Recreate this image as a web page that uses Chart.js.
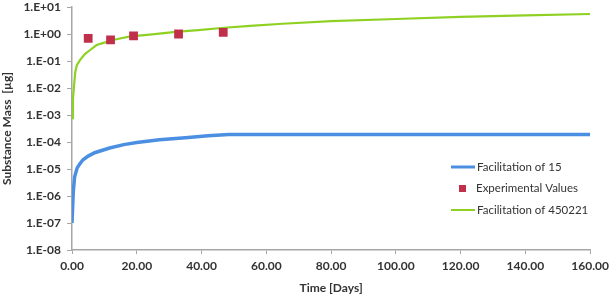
<!DOCTYPE html>
<html>
<head>
<meta charset="utf-8">
<script src="https://cdn.jsdelivr.net/npm/chart.js@4"></script>
<style>
  body { margin: 0; background: #fff; }
  #wrap { width: 614px; height: 295px; }
</style>
</head>
<body>
<div id="wrap"><canvas id="massChart" width="614" height="295"></canvas></div>
<script>
// time axis (days) and y decades
const xTicks = [0, 20, 40, 60, 80, 100, 120, 140, 160];
const yTicks = [1e-8, 1e-7, 1e-6, 1e-5, 1e-4, 1e-3, 1e-2, 1e-1, 1, 10];

// Facilitation of 15 (blue)
const days15 = [0, 0.4, 0.8, 1.6, 2.5, 3.4, 5, 7, 11.6, 16, 20, 27, 35, 42, 48.4, 60, 80, 100, 120, 140, 160];
const mass15 = [1e-7, 1.5e-6, 5e-6, 1.1e-5, 1.6e-5, 2.2e-5, 3e-5, 4e-5, 6e-5, 8e-5, 9.5e-5, 1.2e-4, 1.45e-4, 1.7e-4, 1.9e-4, 1.9e-4, 1.9e-4, 1.9e-4, 1.9e-4, 1.9e-4, 1.9e-4];

// Facilitation of 450221 (green)
const days450221 = [0, 0.3, 0.6, 1, 1.5, 2.5, 4, 5.5, 7.6, 10, 13.7, 18, 24, 32, 39, 47, 55, 65, 80, 100, 120, 140, 160];
const mass450221 = [7.7e-4, 4e-3, 1.1e-2, 0.039, 0.07, 0.11, 0.18, 0.25, 0.39, 0.48, 0.64, 0.82, 0.95, 1.2, 1.4, 1.7, 2.0, 2.4, 3.0, 3.6, 4.3, 4.9, 5.5];

// Experimental Values (red squares)
const expDays = [5, 11.9, 19, 32.9, 46.7];
const expMass = [0.69, 0.6, 0.86, 1.0, 1.15];

const blue = '#4a8fe2';
const green = '#8fd123';
const red = '#c0304a';
const axisGray = '#a6a6a6';
const textColor = '#333333';

function toXY(xs, ys) {
    return xs.map((x, i) => ({ x: x, y: ys[i] }));
}

function fmtExp(v) {
    const e = Math.round(Math.log10(v));
    const s = String(Math.abs(e)).padStart(2, '0');
    return '1.E' + (e < 0 ? '-' : '+') + s;
}

// legend drawn inside the plot, right side
const legendPlugin = {
    id: 'sideLegend',
    afterDraw(chart) {
        const ctx = chart.ctx;
        const items = [
            { label: 'Facilitation of 15', kind: 'line', color: blue, width: 3 },
            { label: 'Experimental Values', kind: 'rect', color: red },
            { label: 'Facilitation of 450221', kind: 'line', color: green, width: 2 }
        ];
        ctx.save();
        ctx.font = '11.5px Lato';
        ctx.textBaseline = 'middle';
        items.forEach((it, i) => {
            const y = 167 + i * 21.5;
            if (it.kind === 'line') {
                ctx.strokeStyle = it.color;
                ctx.lineWidth = it.width;
                ctx.beginPath();
                ctx.moveTo(451, y);
                ctx.lineTo(475, y);
                ctx.stroke();
            } else {
                ctx.fillStyle = it.color;
                ctx.fillRect(459, y - 3.5, 7, 7);
            }
            ctx.fillStyle = textColor;
            ctx.fillText(it.label, i === 1 ? 476 : 477, y);
        });
        ctx.restore();
    }
};

new Chart(document.getElementById('massChart'), {
    type: 'line',
    data: {
        datasets: [
            {
                label: 'Facilitation of 15',
                data: toXY(days15, mass15),
                borderColor: blue,
                borderWidth: 3.5,
                pointRadius: 0,
                tension: 0
            },
            {
                label: 'Experimental Values',
                type: 'scatter',
                data: toXY(expDays, expMass),
                showLine: false,
                pointStyle: 'rect',
                pointRadius: 6.2,
                backgroundColor: red,
                borderColor: red,
                borderWidth: 0
            },
            {
                label: 'Facilitation of 450221',
                data: toXY(days450221, mass450221),
                borderColor: green,
                borderWidth: 2.2,
                pointRadius: 0,
                tension: 0
            }
        ]
    },
    options: {
        responsive: false,
        animation: false,
        layout: { padding: { top: 7, right: 20, left: 0, bottom: 0 } },
        plugins: {
            legend: { display: false },
            tooltip: { enabled: false }
        },
        scales: {
            x: {
                type: 'linear',
                min: 0,
                max: 160,
                afterBuildTicks: scale => { scale.ticks = xTicks.map(v => ({ value: v })); },
                afterFit: scale => { scale.height = 45; },
                grid: {
                    display: true,
                    drawOnChartArea: false,
                    color: axisGray,
                    tickLength: 4
                },
                border: { color: axisGray, width: 1.5 },
                ticks: {
                    color: textColor,
                    font: { family: 'Lato', size: 12, weight: 'bold' },
                    padding: 5,
                    maxRotation: 0,
                    callback: v => Number(v).toFixed(2)
                },
                title: {
                    display: true,
                    text: 'Time [Days]',
                    color: textColor,
                    font: { family: 'Lato', size: 12, weight: 'bold' },
                    padding: { top: 1, bottom: 0 }
                }
            },
            y: {
                type: 'logarithmic',
                min: 1e-8,
                max: 10,
                afterBuildTicks: scale => { scale.ticks = yTicks.map(v => ({ value: v })); },
                afterFit: scale => {
                    scale.width = 72;
                    scale.paddingTop = 0;
                    scale.paddingBottom = 0;
                },
                grid: {
                    display: true,
                    drawOnChartArea: false,
                    color: axisGray,
                    tickLength: 5
                },
                border: { color: axisGray, width: 1.5 },
                ticks: {
                    color: textColor,
                    font: { family: 'Lato', size: 12, weight: 'bold' },
                    padding: 6,
                    callback: v => fmtExp(v)
                },
                title: {
                    display: true,
                    text: 'Substance Mass  [µg]',
                    color: textColor,
                    font: { family: 'Lato', size: 12, weight: 'bold' },
                    padding: { top: 0, bottom: 2 }
                }
            }
        }
    },
    plugins: [legendPlugin]
});
</script>
</body>
</html>
